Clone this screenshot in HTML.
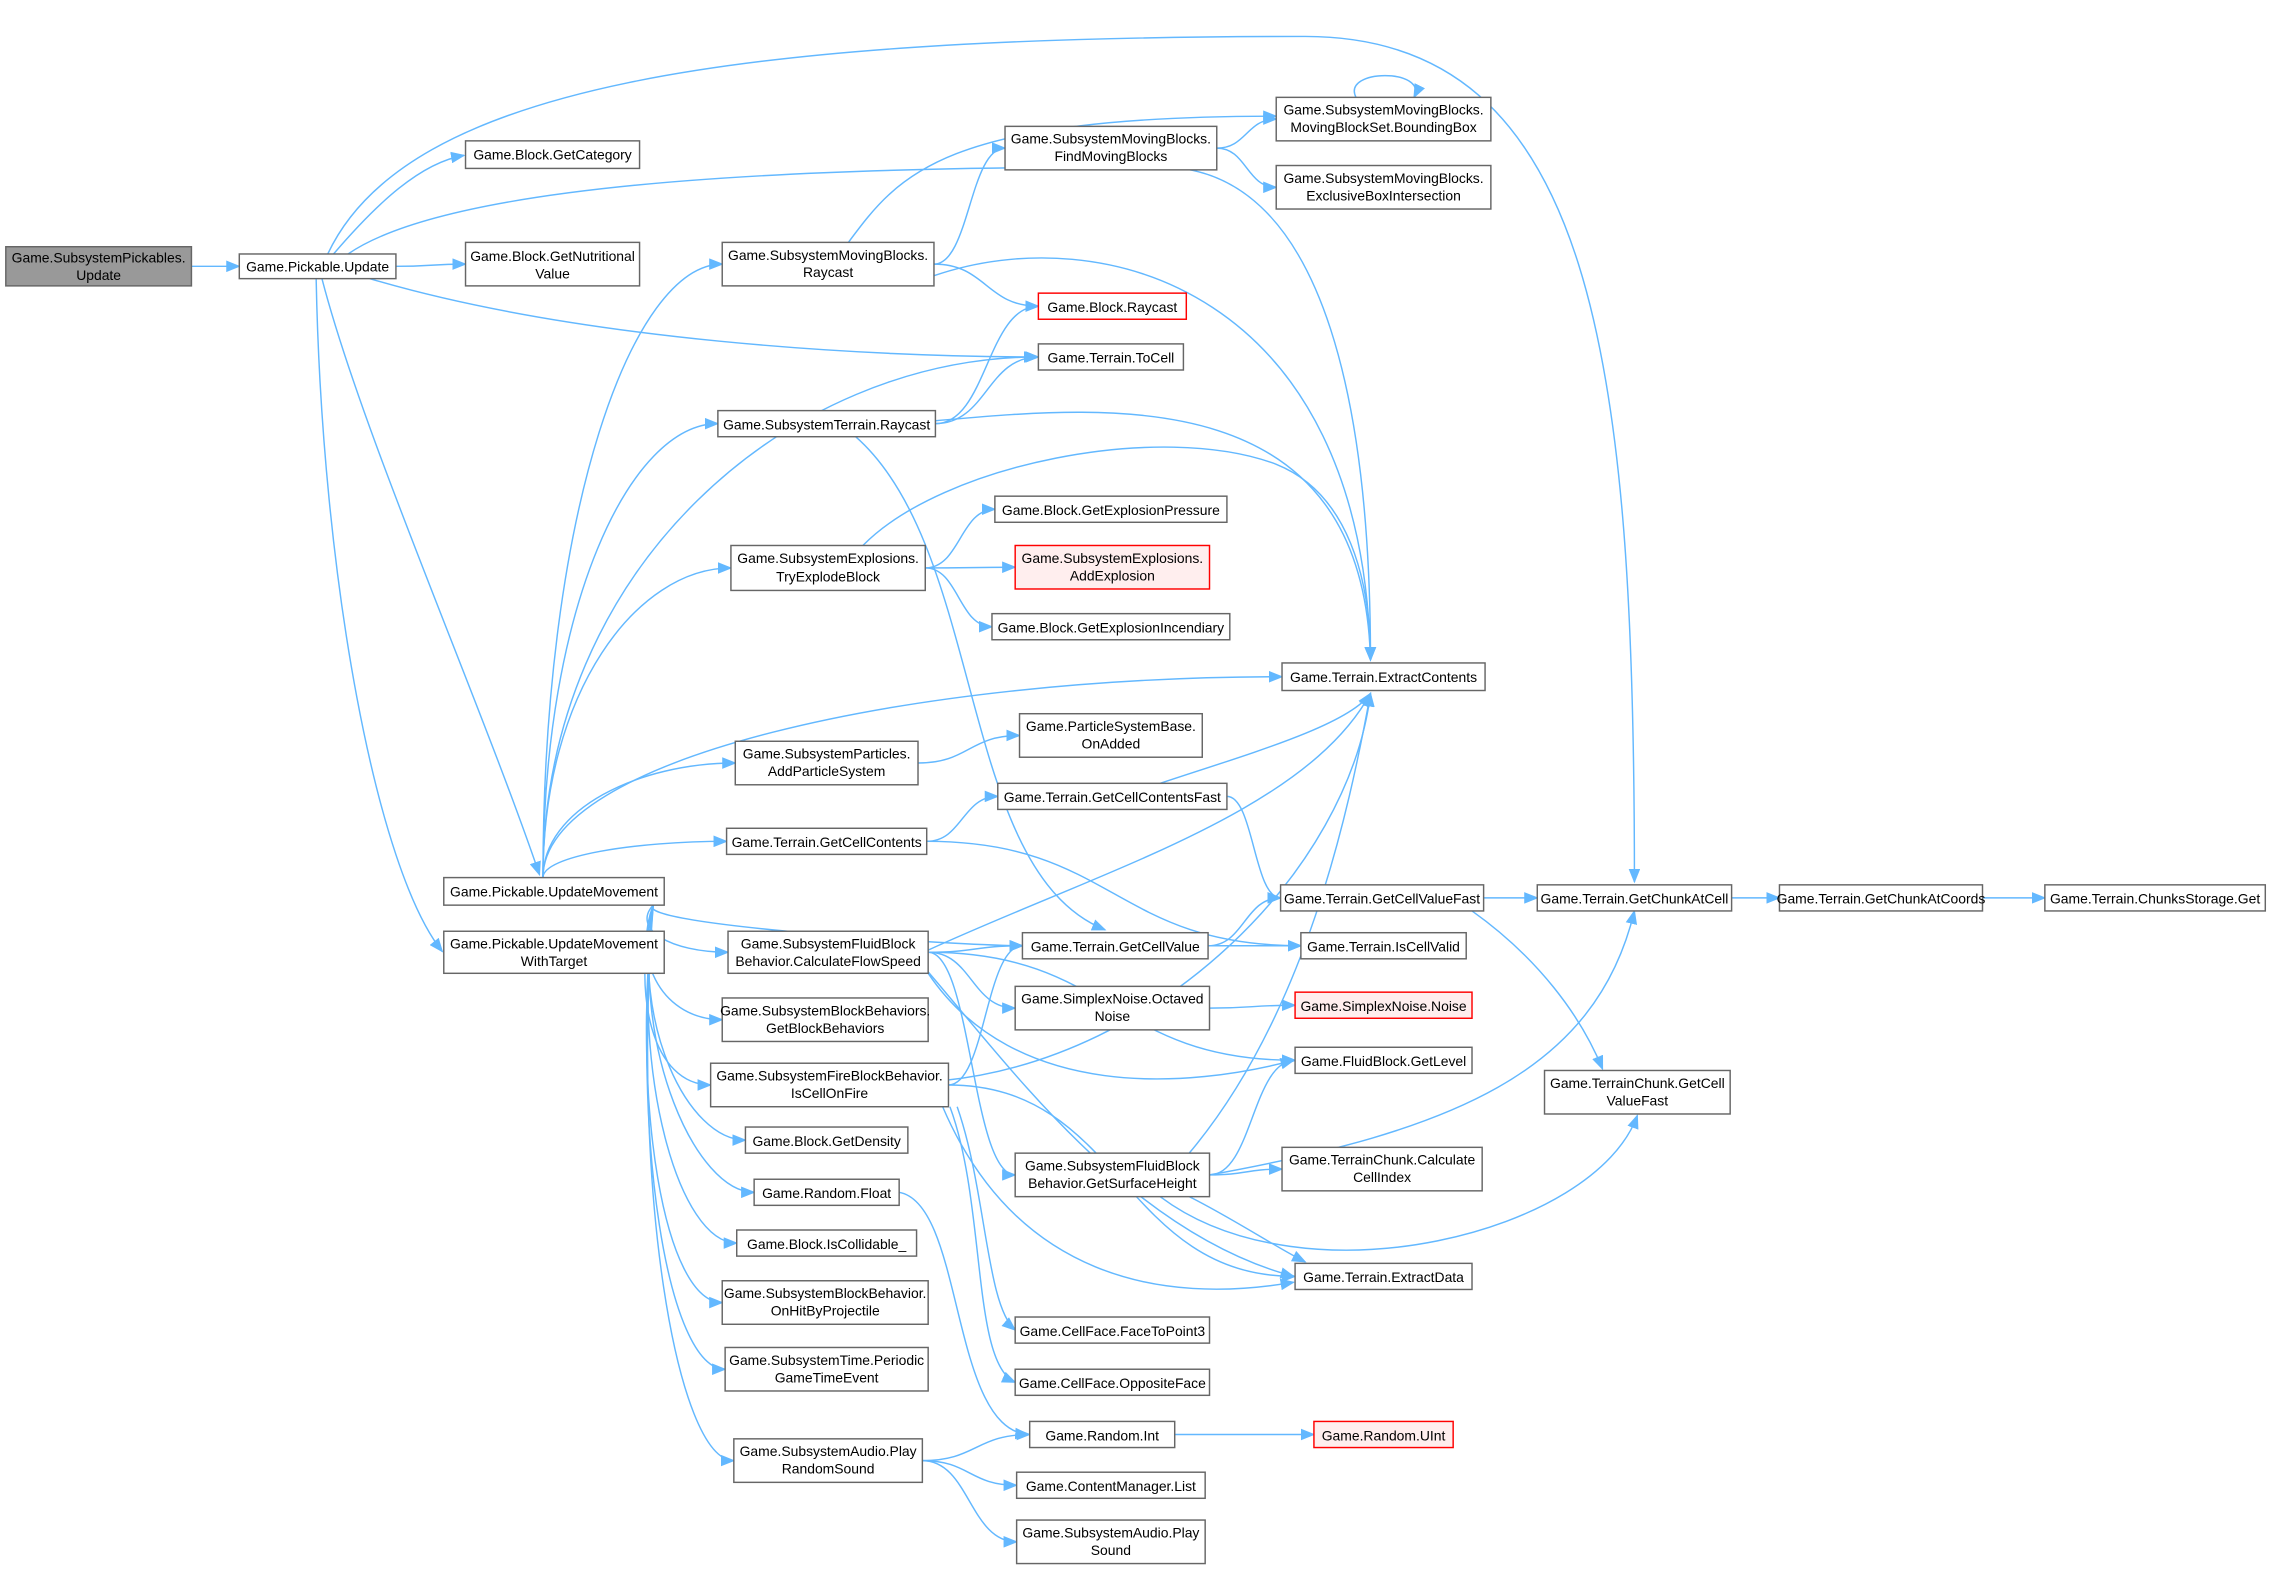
<!DOCTYPE html>
<html><head><meta charset="utf-8"><style>
html,body{margin:0;padding:0;background:#fff}
svg{display:block}
text{font-family:"Liberation Sans",Arial,sans-serif;font-size:9.6px;fill:#000;text-anchor:middle}
rect{fill:#fff;stroke:#666;stroke-width:1}
path.e{fill:none;stroke:#63b8ff;stroke-width:1}
</style></head><body>
<svg id="s" width="2274" height="1571" viewBox="0 0 1568 1083" xmlns="http://www.w3.org/2000/svg">
<defs><marker id="a" markerUnits="userSpaceOnUse" markerWidth="10" markerHeight="8" refX="9" refY="4" orient="auto"><path d="M0,0 L10,4 L0,8 z" fill="#63b8ff"/></marker></defs>
<g id="edges"></g>
<g id="nodes">
<rect x="4" y="170" width="128" height="27" style="fill:#999"/><text x="68" y="181">Game.SubsystemPickables.</text><text x="68" y="193">Update</text>
<rect x="165" y="175" width="108" height="17"/><text x="219" y="187">Game.Pickable.Update</text>
<rect x="321" y="97" width="120" height="19"/><text x="381" y="110">Game.Block.GetCategory</text>
<rect x="321" y="167" width="120" height="30"/><text x="381" y="180">Game.Block.GetNutritional</text><text x="381" y="192">Value</text>
<rect x="306" y="605" width="152" height="19"/><text x="382" y="618">Game.Pickable.UpdateMovement</text>
<rect x="306" y="642" width="152" height="29"/><text x="382" y="654">Game.Pickable.UpdateMovement</text><text x="382" y="666">WithTarget</text>
<rect x="498" y="167" width="146" height="30"/><text x="571" y="179">Game.SubsystemMovingBlocks.</text><text x="571" y="191">Raycast</text>
<rect x="693" y="87" width="146" height="30"/><text x="766" y="99">Game.SubsystemMovingBlocks.</text><text x="766" y="111">FindMovingBlocks</text>
<rect x="880" y="67" width="148" height="30"/><text x="954" y="79">Game.SubsystemMovingBlocks.</text><text x="954" y="91">MovingBlockSet.BoundingBox</text>
<rect x="880" y="114" width="148" height="30"/><text x="954" y="126">Game.SubsystemMovingBlocks.</text><text x="954" y="138">ExclusiveBoxIntersection</text>
<rect x="716" y="202" width="102" height="18" style="stroke:#f00"/><text x="767" y="215">Game.Block.Raycast</text>
<rect x="716" y="237" width="100" height="18"/><text x="766" y="250">Game.Terrain.ToCell</text>
<rect x="495" y="283" width="150" height="18"/><text x="570" y="296">Game.SubsystemTerrain.Raycast</text>
<rect x="686" y="342" width="160" height="18"/><text x="766" y="355">Game.Block.GetExplosionPressure</text>
<rect x="504" y="376" width="134" height="31"/><text x="571" y="388">Game.SubsystemExplosions.</text><text x="571" y="401">TryExplodeBlock</text>
<rect x="700" y="376" width="134" height="30" style="stroke:#f00;fill:#fee"/><text x="767" y="388">Game.SubsystemExplosions.</text><text x="767" y="400">AddExplosion</text>
<rect x="684" y="423" width="164" height="18"/><text x="766" y="436">Game.Block.GetExplosionIncendiary</text>
<rect x="884" y="457" width="140" height="19"/><text x="954" y="470">Game.Terrain.ExtractContents</text>
<rect x="703" y="492" width="126" height="30"/><text x="766" y="504">Game.ParticleSystemBase.</text><text x="766" y="516">OnAdded</text>
<rect x="507" y="511" width="126" height="30"/><text x="570" y="523">Game.SubsystemParticles.</text><text x="570" y="535">AddParticleSystem</text>
<rect x="688" y="540" width="158" height="18"/><text x="767" y="553">Game.Terrain.GetCellContentsFast</text>
<rect x="501" y="571" width="138" height="18"/><text x="570" y="584">Game.Terrain.GetCellContents</text>
<rect x="883" y="610" width="140" height="18"/><text x="953" y="623">Game.Terrain.GetCellValueFast</text>
<rect x="1060" y="610" width="134" height="18"/><text x="1127" y="623">Game.Terrain.GetChunkAtCell</text>
<rect x="1227" y="610" width="140" height="18"/><text x="1297" y="623">Game.Terrain.GetChunkAtCoords</text>
<rect x="1410" y="610" width="152" height="18"/><text x="1486" y="623">Game.Terrain.ChunksStorage.Get</text>
<rect x="502" y="642" width="138" height="29"/><text x="571" y="654">Game.SubsystemFluidBlock</text><text x="571" y="666">Behavior.CalculateFlowSpeed</text>
<rect x="705" y="643" width="128" height="18"/><text x="769" y="656">Game.Terrain.GetCellValue</text>
<rect x="897" y="643" width="114" height="18"/><text x="954" y="656">Game.Terrain.IsCellValid</text>
<rect x="700" y="680" width="134" height="30"/><text x="767" y="692">Game.SimplexNoise.Octaved</text><text x="767" y="704">Noise</text>
<rect x="893" y="684" width="122" height="18" style="stroke:#f00;fill:#fee"/><text x="954" y="697">Game.SimplexNoise.Noise</text>
<rect x="498" y="688" width="142" height="30"/><text x="569" y="700">Game.SubsystemBlockBehaviors.</text><text x="569" y="712">GetBlockBehaviors</text>
<rect x="893" y="722" width="122" height="18"/><text x="954" y="735">Game.FluidBlock.GetLevel</text>
<rect x="490" y="733" width="164" height="30"/><text x="572" y="745">Game.SubsystemFireBlockBehavior.</text><text x="572" y="757">IsCellOnFire</text>
<rect x="1065" y="738" width="128" height="30"/><text x="1129" y="750">Game.TerrainChunk.GetCell</text><text x="1129" y="762">ValueFast</text>
<rect x="514" y="777" width="112" height="18"/><text x="570" y="790">Game.Block.GetDensity</text>
<rect x="700" y="795" width="134" height="30"/><text x="767" y="807">Game.SubsystemFluidBlock</text><text x="767" y="819">Behavior.GetSurfaceHeight</text>
<rect x="884" y="791" width="138" height="30"/><text x="953" y="803">Game.TerrainChunk.Calculate</text><text x="953" y="815">CellIndex</text>
<rect x="520" y="813" width="100" height="18"/><text x="570" y="826">Game.Random.Float</text>
<rect x="508" y="848" width="124" height="18"/><text x="570" y="861">Game.Block.IsCollidable_</text>
<rect x="893" y="871" width="122" height="18"/><text x="954" y="884">Game.Terrain.ExtractData</text>
<rect x="498" y="883" width="142" height="30"/><text x="569" y="895">Game.SubsystemBlockBehavior.</text><text x="569" y="907">OnHitByProjectile</text>
<rect x="700" y="908" width="134" height="18"/><text x="767" y="921">Game.CellFace.FaceToPoint3</text>
<rect x="500" y="929" width="140" height="30"/><text x="570" y="941">Game.SubsystemTime.Periodic</text><text x="570" y="953">GameTimeEvent</text>
<rect x="700" y="944" width="134" height="18"/><text x="767" y="957">Game.CellFace.OppositeFace</text>
<rect x="506" y="992" width="130" height="30"/><text x="571" y="1004">Game.SubsystemAudio.Play</text><text x="571" y="1016">RandomSound</text>
<rect x="710" y="980" width="100" height="18"/><text x="760" y="993">Game.Random.Int</text>
<rect x="906" y="980" width="96" height="18" style="stroke:#f00;fill:#fee"/><text x="954" y="993">Game.Random.UInt</text>
<rect x="701" y="1015" width="130" height="18"/><text x="766" y="1028">Game.ContentManager.List</text>
<rect x="701" y="1048" width="130" height="30"/><text x="766" y="1060">Game.SubsystemAudio.Play</text><text x="766" y="1072">Sound</text>
</g>
</svg>
<script>
var R=[].slice.call(document.querySelectorAll('#nodes rect')).map(function(r){return [+r.getAttribute('x'),+r.getAttribute('y'),+r.getAttribute('width'),+r.getAttribute('height')]});
var E=[[1,2],[2,4],
[5,7],[5,12],[5,13],[5,15],[5,18],[5,20],[5,22],[5,27],[5,28],[5,32],[5,34],[5,36],[5,39],[5,40],[5,42],[5,44],[5,46],
[7,8],[7,11],[8,9],[8,10],[13,11],[13,12],
[15,14],[15,16],[15,17],[20,19],[21,23],[22,21],[22,29],[23,24],[24,25],[25,26],
[27,28],[27,30],[27,33],[27,37],[28,23],[28,29],[30,31],
[34,28],[34,41],[37,33],[37,38],
[46,47],[46,49],[46,50],[47,48]];
var g=document.getElementById('edges'),d='';
function P(s){d+='<path class="e" marker-end="url(#a)" d="'+s+'"/>';}
E.forEach(function(e){var a=R[e[0]-1],b=R[e[1]-1];
 var x1=b[0],y1=b[1]+b[3]/2,x0,y0;
 if(e[0]==5&&y1<a[1]-20){x0=a[0]+a[2]*0.45;y0=a[1];P('M'+x0+','+y0+' C'+x0+','+(y0-(y0-y1)*0.6)+' '+(x1-(x1-x0)*0.5)+','+y1+' '+x1+','+y1);return;}
 if(e[0]==5&&y1>a[1]+a[3]+20){x0=a[0]+a[2]*0.95;y0=a[1]+a[3];P('M'+x0+','+y0+' C'+(x0-15)+','+(y0+(y1-y0)*0.5)+' '+(x1-40)+','+y1+' '+x1+','+y1);return;}
 x0=a[0]+a[2];y0=a[1]+a[3]/2;var m=(x1-x0)/2;
 P('M'+x0+','+y0+' C'+(x0+m)+','+y0+' '+(x1-m)+','+y1+' '+x1+','+y1);});
P('M226,175 C280,60 500,25 900,25 C1100,25 1127,250 1127,608');
P('M222,192 C250,300 330,480 372,603');
P('M218,192 C222,400 260,600 305,656');
P('M935,67 C925,47 985,47 975,67');
P('M230,175 C260,140 290,112 320,107');
P('M255,192 C400,235 600,246 715,246');
P('M240,175 C320,120 600,115 800,115 C920,115 945,300 945,455');
P('M585,167 C620,120 650,80 880,80');
P('M644,190 C760,150 940,200 945,455');
P('M645,290 C760,280 940,260 945,455');
P('M595,376 C650,320 800,290 880,320 C930,340 945,400 945,455');
P('M590,301 C680,380 660,600 762,641');
P('M640,655 C760,600 900,560 945,478');
P('M800,540 C860,520 930,500 945,478');
P('M650,745 C800,730 930,600 945,478');
P('M820,795 C900,700 930,560 945,478');
P('M620,822 C665,830 655,985 709,989');
P('M1015,628 C1060,660 1090,700 1105,737');
P('M834,810 C1000,780 1100,740 1127,628');
P('M800,825 C900,900 1100,850 1129,769');
P('M640,670 C700,740 780,850 892,880');
P('M650,763 C700,880 800,900 892,884');
P('M660,763 C680,820 680,900 700,917');
P('M655,763 C680,830 670,940 700,953');
P('M640,671 C700,760 820,750 892,731');
P('M820,825 C850,840 880,860 900,870');
g.innerHTML=d;
</script>
</body></html>
